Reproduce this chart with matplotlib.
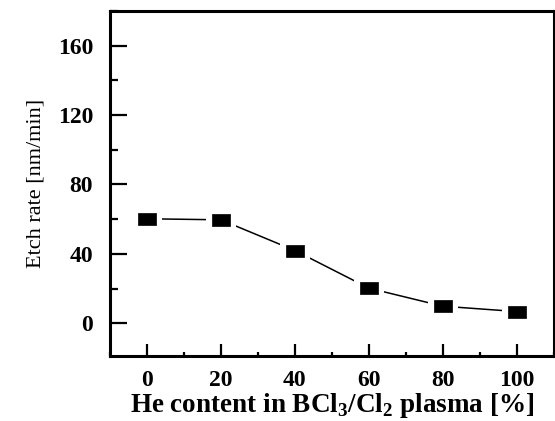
import matplotlib
matplotlib.use("Agg")
import matplotlib.pyplot as plt
from matplotlib.path import Path
from matplotlib.ticker import MultipleLocator

he_content = [0, 20, 40, 60, 80, 100]
etch_rate = [60.2, 59.6, 41.9, 20.2, 9.8, 6.7]
y_ticks = [0, 40, 80, 120, 160]
x_ticks = [0, 20, 40, 60, 80, 100]

plt.rcParams['font.family'] = ['Liberation Serif', 'DejaVu Serif']
plt.rcParams['mathtext.fontset'] = 'custom'
plt.rcParams['mathtext.rm'] = 'Liberation Serif'
plt.rcParams['mathtext.bf'] = 'Liberation Serif:bold'

fig = plt.figure(figsize=(5.55, 4.21), dpi=100)
ax = fig.add_axes([0.198, 0.154, 0.800, 0.820])

w, h = 0.5, 0.5 / 1.4
rect = Path([(-w, -h), (w, -h), (w, h), (-w, h), (-w, -h)],
            [Path.MOVETO, Path.LINETO, Path.LINETO, Path.LINETO, Path.CLOSEPOLY])

ax.plot(he_content, etch_rate, color='black', lw=1.1, marker=rect,
        markersize=21, markerfacecolor='white', markeredgecolor='white',
        markeredgewidth=0, zorder=2)
ax.plot(he_content, etch_rate, linestyle='none', marker=rect, markersize=13,
        markerfacecolor='black', markeredgecolor='black', markeredgewidth=0.5,
        zorder=3)

ax.set_xlim(-10, 110)
ax.set_ylim(-19, 180)
ax.set_xticks(x_ticks)
ax.set_yticks(y_ticks)
ax.xaxis.set_minor_locator(MultipleLocator(10))
ax.yaxis.set_minor_locator(MultipleLocator(20))

for s in ax.spines.values():
    s.set_linewidth(2.2)

ax.tick_params(axis='x', which='major', direction='in', length=8.5, width=1.6,
               pad=10, labelsize=17, top=False)
ax.tick_params(axis='x', which='minor', direction='in', length=3, width=1.6, top=False)
ax.tick_params(axis='y', which='major', direction='in', length=12, width=1.6,
               pad=12, labelsize=17, right=False)
ax.tick_params(axis='y', which='minor', direction='in', length=6, width=1.6, right=False)
for lab in ax.get_xticklabels() + ax.get_yticklabels():
    lab.set_fontweight('bold')

ax.set_xlabel(r'He content in BCl$_\mathbf{3}$/Cl$_\mathbf{2}$ plasma [%]',
              fontsize=19.5, fontweight='bold', labelpad=0)
ax.set_ylabel('Etch rate [nm/min]', fontsize=16, labelpad=9)

fig.savefig('out.png', dpi=100)
